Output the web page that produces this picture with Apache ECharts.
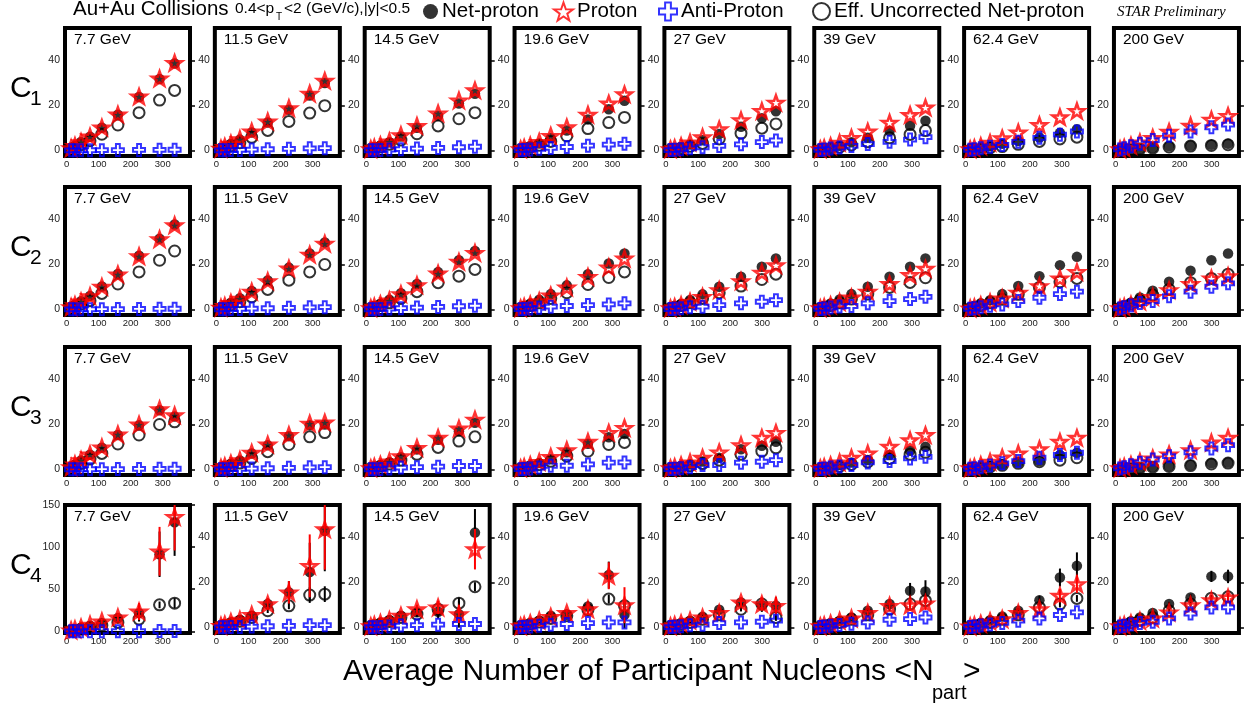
<!DOCTYPE html>
<html><head><meta charset="utf-8">
<script src="https://cdn.jsdelivr.net/npm/echarts@6/dist/echarts.min.js"></script>
<style>html,body{margin:0;padding:0;background:#fff}#c{width:1256px;height:704px}</style>
</head><body><div id="c"></div>
<script>
// ---------------- DATA ----------------
const energies = ['7.7 GeV','11.5 GeV','14.5 GeV','19.6 GeV','27 GeV','39 GeV','62.4 GeV','200 GeV'];
const npart = [
  [337,290,226,160,110,73,45,26,14],
  [338,291,226,160,110,73,45,26,14],
  [339,289,224,158,108,72,44,25,14],
  [338,289,224,158,108,72,44,25,14],
  [343,299,234,166,114,75,47,27,14],
  [342,294,230,162,111,74,46,26,14],
  [347,294,230,164,114,76,47,27,14],
  [351,299,234,167,116,76,48,27,14]
];
const xTicks = [0,100,200,300];
const yTicks = [0,20,40];
const yTicksC4Low = [0,50,100,150];
const rowLabels = ['1','2','3','4'];

// C1
const c1_proton = [
  [39.0,32.0,24.0,16.0,10.2,6.2,3.7,2.0,1.0],
  [31.0,25.3,18.8,12.9,8.4,5.0,3.0,1.6,0.8],
  [26.8,22.3,16.5,10.9,6.8,4.0,2.3,1.2,0.6],
  [25.0,20.9,15.9,10.3,6.5,3.8,2.1,1.1,0.5],
  [21.3,17.6,13.5,9.4,5.9,3.5,1.9,1.0,0.5],
  [19.1,15.8,12.4,8.4,5.6,3.4,1.9,1.0,0.5],
  [17.6,14.8,11.3,8.0,5.4,3.4,1.9,1.0,0.5],
  [15.4,13.7,11.0,8.3,5.6,3.6,2.1,1.1,0.5]
];
const c1_anti = [
  [0.3,0.25,0.2,0.15,0.1,0.07,0.04,0.02,0.01],
  [1.0,0.9,0.7,0.5,0.35,0.22,0.13,0.07,0.03],
  [1.6,1.4,1.1,0.8,0.55,0.35,0.2,0.1,0.05],
  [2.9,2.6,2.1,1.5,1.1,0.7,0.4,0.2,0.1],
  [4.4,3.7,2.7,2.0,1.4,0.9,0.5,0.3,0.15],
  [5.9,4.8,3.8,2.8,2.0,1.3,0.8,0.4,0.2],
  [8.4,7.0,5.6,3.8,2.4,1.6,0.9,0.5,0.25],
  [11.5,10.3,8.4,6.5,4.6,3.0,1.8,0.9,0.45]
];
const c1_net = [
  [38.7,31.8,23.8,15.9,10.1,6.1,3.7,2.0,1.0],
  [30.0,24.4,18.1,12.4,8.0,4.8,2.9,1.5,0.8],
  [25.2,20.9,15.4,10.1,6.2,3.6,2.1,1.1,0.55],
  [22.1,18.3,13.8,8.8,5.4,3.1,1.7,0.9,0.4],
  [17.4,14.3,10.5,7.3,4.5,2.6,1.4,0.7,0.35],
  [13.2,11.0,8.6,5.6,3.6,2.1,1.1,0.6,0.3],
  [9.4,7.8,5.7,4.2,3.0,1.8,1.0,0.5,0.25],
  [2.9,2.5,2.2,1.8,1.2,0.7,0.4,0.2,0.1]
];
const c1_eff = [
  [26.7,22.4,16.8,11.3,7.2,4.3,2.5,1.3,0.6],
  [19.9,16.6,12.9,8.9,5.8,3.4,2.0,1.0,0.5],
  [16.8,14.1,10.9,7.4,4.6,2.7,1.5,0.8,0.4],
  [14.7,12.4,9.7,6.4,4.0,2.3,1.3,0.7,0.3],
  [11.8,9.9,7.6,5.1,3.1,1.8,1.0,0.5,0.25],
  [8.8,7.1,5.6,3.8,2.4,1.4,0.8,0.4,0.2],
  [5.9,5.1,4.0,2.7,1.7,1.1,0.6,0.3,0.15],
  [2.5,2.2,1.9,1.5,1.0,0.6,0.3,0.15,0.08]
];
// C2
const c2_proton = [
  [37.5,31.3,23.7,15.6,10.1,5.9,3.5,1.9,1.0],
  [29.3,24.4,18.2,12.6,7.9,4.8,2.9,1.5,0.8],
  [25.2,21.2,16.0,10.8,6.8,4.0,2.3,1.2,0.6],
  [22.7,18.7,14.5,9.8,6.2,3.7,2.1,1.1,0.5],
  [19.7,16.4,12.6,8.6,5.6,3.4,1.9,1.0,0.5],
  [18.1,15.3,11.3,7.9,5.3,3.2,1.8,1.0,0.5],
  [16.7,13.8,10.4,7.4,4.9,3.1,1.8,0.9,0.45],
  [14.8,13.8,11.3,8.6,5.6,3.6,2.1,1.1,0.5]
];
const c2_anti = [
  [0.3,0.25,0.2,0.15,0.1,0.07,0.04,0.02,0.01],
  [1.0,0.9,0.7,0.5,0.35,0.22,0.13,0.07,0.03],
  [1.6,1.4,1.1,0.8,0.55,0.35,0.2,0.1,0.05],
  [2.7,2.2,1.9,1.5,1.2,0.7,0.4,0.2,0.1],
  [4.1,3.4,2.7,1.9,1.2,0.9,0.5,0.3,0.15],
  [5.6,4.6,3.7,2.7,1.5,1.3,0.8,0.4,0.2],
  [7.9,6.8,5.2,3.7,2.2,1.6,0.9,0.5,0.25],
  [11.6,10.1,7.9,5.9,3.7,2.8,1.7,0.9,0.45]
];
const c2_net = [
  [37.8,31.5,23.9,15.8,10.2,6.0,3.6,1.9,1.0],
  [29.8,24.9,18.6,12.9,8.2,5.0,3.0,1.6,0.8],
  [26.0,21.9,16.6,11.3,7.2,4.3,2.5,1.3,0.65],
  [24.9,20.4,15.7,10.7,6.8,4.3,2.5,1.3,0.6],
  [22.7,19.0,14.5,10.1,6.7,4.2,2.4,1.3,0.65],
  [22.7,19.0,14.5,10.1,6.8,4.4,2.6,1.4,0.7],
  [23.4,19.7,14.8,10.4,6.8,4.1,2.7,1.4,0.7],
  [24.9,21.9,17.2,12.3,8.3,5.3,3.0,1.6,0.8]
];
const c2_eff = [
  [26.0,21.9,16.7,11.3,7.1,3.9,2.4,1.3,0.6],
  [20.0,16.7,13.0,8.9,5.6,3.4,2.0,1.0,0.5],
  [17.8,14.8,11.9,7.9,4.9,2.9,1.7,0.9,0.45],
  [16.7,14.2,11.1,7.4,4.9,2.9,1.7,0.9,0.45],
  [15.7,13.3,10.4,7.4,4.9,3.0,1.7,0.9,0.45],
  [14.1,12.0,9.8,6.8,4.6,2.9,1.7,0.9,0.45],
  [13.8,12.3,9.8,6.7,4.5,2.9,1.7,0.9,0.45],
  [15.7,13.8,11.9,8.9,6.4,4.0,2.4,1.3,0.6]
];
// C3
const c3_proton = [
  [24.1,26.8,20.0,15.6,9.8,6.7,4.1,2.2,1.0],
  [20.9,20.4,15.3,11.1,7.4,4.1,2.6,1.4,0.7],
  [22.2,18.2,14.1,9.6,5.9,3.5,2.0,1.1,0.5],
  [18.5,16.3,12.3,8.6,5.6,3.3,1.9,1.0,0.5],
  [16.3,14.1,10.8,7.6,5.2,3.1,1.8,1.0,0.5],
  [15.3,13.0,10.1,7.1,5.2,3.1,1.8,1.0,0.5],
  [14.1,12.3,9.0,7.1,5.3,3.4,1.9,1.0,0.5],
  [14.1,12.0,8.6,6.7,4.9,3.4,2.0,1.1,0.5]
];
const c3_anti = [
  [0.3,0.25,0.2,0.15,0.1,0.07,0.04,0.02,0.01],
  [1.0,0.9,0.7,0.5,0.35,0.22,0.13,0.07,0.03],
  [1.5,1.5,1.2,1.0,0.8,0.4,0.2,0.1,0.05],
  [3.1,3.0,2.2,1.6,1.6,0.8,0.4,0.2,0.1],
  [4.1,3.4,3.0,1.9,1.9,1.0,0.5,0.3,0.15],
  [5.6,4.9,3.7,3.1,1.9,1.3,0.8,0.4,0.2],
  [7.4,6.4,5.2,3.7,2.7,1.7,1.0,0.5,0.25],
  [10.8,9.3,7.6,5.9,4.4,3.0,1.8,0.9,0.45]
];
const c3_net = [
  [23.5,26.3,19.6,15.3,9.6,6.5,4.0,2.1,1.0],
  [20.0,19.6,14.8,10.7,7.1,4.0,2.5,1.3,0.65],
  [20.8,17.0,13.2,8.9,5.4,3.2,1.8,1.0,0.45],
  [15.8,14.3,11.4,7.6,4.5,2.8,1.6,0.8,0.4],
  [12.3,10.5,9.0,5.2,3.5,2.2,1.3,0.7,0.35],
  [10.1,8.3,6.4,4.2,3.1,1.9,1.1,0.6,0.3],
  [7.4,6.4,3.7,3.1,2.2,1.6,0.9,0.5,0.25],
  [3.1,2.7,1.9,1.5,1.2,0.7,0.4,0.2,0.1]
];
const c3_eff = [
  [21.2,20.0,15.3,11.3,7.1,4.6,2.6,1.4,0.7],
  [16.4,14.5,11.1,7.9,4.9,2.8,1.7,0.9,0.45],
  [14.5,12.6,9.8,6.7,4.1,2.4,1.4,0.7,0.35],
  [12.0,11.1,8.1,5.9,3.6,2.1,1.2,0.6,0.3],
  [9.6,8.1,6.7,4.1,2.6,1.6,0.9,0.5,0.25],
  [7.6,6.7,4.9,3.3,2.2,1.3,0.8,0.4,0.2],
  [5.2,4.1,3.4,2.7,1.8,1.1,0.6,0.3,0.15],
  [2.8,2.4,1.7,1.3,1.0,0.6,0.3,0.15,0.08]
];
// C4
const c4_proton = [
  [136,95,23.5,16.5,11.8,7.9,4.5,2.5,1.2],
  [43.7,27.4,15.6,10.4,5.6,3.4,2.4,1.3,0.7],
  [34.8,5.9,8.9,8.1,5.2,3.2,1.9,1.0,0.5],
  [9.9,23.0,8.1,6.4,4.7,3.0,1.8,1.0,0.5],
  [9.6,10.4,11.1,6.4,4.4,3.0,1.8,1.0,0.5],
  [10.7,9.9,9.6,6.4,4.0,2.9,1.7,0.9,0.5],
  [19.3,14.1,8.1,6.4,3.7,2.7,1.6,0.9,0.45],
  [13.3,12.1,9.9,6.7,4.0,2.9,1.8,1.0,0.5]
];
const c4_anti = [
  [0.3,0.25,0.2,0.15,0.1,0.07,0.04,0.02,0.01],
  [1.0,1.0,0.7,0.5,0.35,0.22,0.13,0.07,0.03],
  [1.5,1.5,1.2,1.0,0.8,0.4,0.2,0.1,0.05],
  [2.2,2.2,1.9,1.5,1.2,0.7,0.4,0.2,0.1],
  [3.0,2.5,2.2,1.9,1.2,0.9,0.5,0.3,0.15],
  [4.4,3.7,3.4,2.2,1.6,1.1,0.7,0.4,0.2],
  [6.7,5.5,4.0,3.0,2.0,1.3,0.8,0.4,0.2],
  [8.9,8.9,6.2,4.0,2.5,2.0,1.3,0.7,0.35]
];
const c4_net = [
  [129.6,91.5,21.6,15.7,9.8,6.7,4.2,2.3,1.1],
  [43.0,24.7,15.6,10.4,5.2,3.3,2.2,1.2,0.6],
  [42.2,5.9,7.0,6.7,5.2,3.2,1.9,1.0,0.5],
  [5.6,23.3,9.3,5.6,5.2,3.0,1.8,1.0,0.5],
  [9.6,9.9,11.1,7.9,4.7,3.0,1.8,1.0,0.5],
  [16.0,16.3,10.4,7.4,4.4,2.9,1.7,0.9,0.5],
  [27.4,22.2,12.1,7.4,4.9,3.2,1.9,1.0,0.5],
  [22.7,22.7,13.3,10.4,6.4,4.4,2.7,1.4,0.7]
];
const c4_eff = [
  [33.4,31.4,14.5,10.6,7.1,4.5,2.6,1.4,0.7],
  [14.8,14.4,9.6,7.4,4.4,2.7,1.6,0.8,0.4],
  [18.1,10.8,8.1,5.9,4.4,2.6,1.5,0.8,0.4],
  [9.6,12.6,7.8,5.2,4.0,2.4,1.4,0.7,0.35],
  [4.4,10.4,8.1,5.6,3.6,2.2,1.3,0.7,0.35],
  [11.9,10.4,8.1,5.6,3.6,2.2,1.3,0.7,0.35],
  [12.9,10.4,8.9,5.6,3.6,2.2,1.3,0.7,0.35],
  [13.6,13.0,10.4,7.4,4.4,3.2,2.0,1.0,0.5]
];
const c4_net_err = [
  [40,27,10,5,3,1.5,0.8,0.4,0.2],
  [18,13,5,2.5,1.5,0.8,0.4,0.2,0.1],
  [10.5,6,3,2,1,0.6,0.3,0.2,0.1],
  [6,6,2.5,1.5,1,0.5,0.3,0.2,0.1],
  [4,3,2,1.2,0.8,0.5,0.3,0.2,0.1],
  [5,3.5,2,1.2,0.8,0.5,0.3,0.2,0.1],
  [6,4,2,1.2,0.8,0.5,0.3,0.2,0.1],
  [3,2.5,1.5,1,0.6,0.4,0.2,0.1,0.1]
];
const c4_proton_err = [
  [40,29,10,5,3,1.5,0.8,0.4,0.2],
  [18,14,5,2.5,1.5,0.8,0.4,0.2,0.1],
  [9,4,3,2,1,0.6,0.3,0.2,0.1],
  [8,6,2.5,1.5,1,0.5,0.3,0.2,0.1],
  [4,3,2,1.2,0.8,0.5,0.3,0.2,0.1],
  [3,2.5,1.5,1,0.6,0.4,0.2,0.1,0.1],
  [4,3,1.5,1,0.6,0.4,0.2,0.1,0.1],
  [2,1.5,1,0.8,0.5,0.3,0.2,0.1,0.1]
];
const c4_eff_err = [
  [6,4,2,1.5,1,0.6,0.3,0.2,0.1],
  [3.5,3.5,1.5,1,0.6,0.4,0.2,0.1,0.1],
  [2,2.5,1,0.8,0.5,0.3,0.2,0.1,0.1],
  [2,2,1,0.8,0.5,0.3,0.2,0.1,0.1],
  [1.5,1.5,1,0.8,0.5,0.3,0.2,0.1,0.1],
  [1.5,1.5,1,0.8,0.5,0.3,0.2,0.1,0.1],
  [1.5,1.5,1,0.8,0.5,0.3,0.2,0.1,0.1],
  [1.5,1.5,1,0.8,0.5,0.3,0.2,0.1,0.1]
];

// ---------------- LAYOUT / STYLE ----------------
const FONT = "'Liberation Sans', Arial, Helvetica, sans-serif";
const STAR = 'path://M50,0 L61.8,33.8 L97.55,34.55 L69,56.3 L79.39,90.45 L50,70 L20.61,90.45 L31,56.3 L2.45,34.55 L38.2,33.8 Z';
const CROSS = 'path://M34,0 H66 V34 H100 V66 H66 V100 H34 V66 H0 V34 H34 Z';
const gridLeft0 = 65, colStep = 149.85, gridW = 125, gridH = 128;
const gridTops = [28, 187, 347, 505];

const rows = [
  {net:c1_net, proton:c1_proton, anti:c1_anti, eff:c1_eff},
  {net:c2_net, proton:c2_proton, anti:c2_anti, eff:c2_eff},
  {net:c3_net, proton:c3_proton, anti:c3_anti, eff:c3_eff},
  {net:c4_net, proton:c4_proton, anti:c4_anti, eff:c4_eff,
   netErr:c4_net_err, protonErr:c4_proton_err, effErr:c4_eff_err}
];

const grids = [], xAxes = [], yAxes = [], series = [], graphics = [];

function errSeries(idx, c, vals, errs, color, z) {
  return {
    type:'custom', xAxisIndex: idx, yAxisIndex: 2*idx, clip: true, silent: true, z: z,
    data: npart[c].map((x,i)=>[x, vals[c][i], errs[c][i]]),
    encode: {x:0, y:1},
    renderItem: function(params, api) {
      const x = api.value(0), y = api.value(1), e = api.value(2);
      const p1 = api.coord([x, y - e]), p2 = api.coord([x, y + e]);
      return {type:'line', shape:{x1:p1[0], y1:p1[1], x2:p2[0], y2:p2[1]},
              style:{stroke: color, lineWidth: 2}};
    }
  };
}

rows.forEach((row, r) => {
  energies.forEach((en, c) => {
    const idx = r*8 + c;
    const left = gridLeft0 + colStep*c, top = gridTops[r];
    const lowRange = (r === 3 && c === 0);
    const yMin = lowRange ? -2 : -2.5, yMax = lowRange ? 150 : 54.5;
    const ticks = lowRange ? yTicksC4Low : yTicks;
    grids.push({left:left, top:top, width:gridW, height:gridH, show:true,
      borderColor:'#000', borderWidth:4, backgroundColor:'rgba(0,0,0,0)'});
    xAxes.push({gridIndex:idx, type:'value', min:-5, max:385,
      axisLine:{show:false}, splitLine:{show:false}, axisTick:{show:false},
      axisLabel:{customValues:xTicks, fontSize:9.5, color:'#222', margin:3, fontFamily:FONT}});
    yAxes.push({gridIndex:idx, type:'value', min:yMin, max:yMax, position:'left',
      axisLine:{show:false}, splitLine:{show:false}, axisTick:{show:false},
      axisLabel:{customValues:ticks, fontSize:10.5, color:'#222', margin:5, fontFamily:FONT}});
    yAxes.push({gridIndex:idx, type:'value', min:yMin, max:yMax, position:'right',
      axisLine:{show:false}, splitLine:{show:false}, axisLabel:{show:false},
      axisTick:{show:true, customValues:ticks, length:5, inside:false, lineStyle:{color:'#000', width:1.5}}});

    const pts = arr => npart[c].map((x,i)=>[x, arr[c][i]]);
    if (row.effErr) series.push(errSeries(idx, c, row.eff, row.effErr, '#000', 2));
    series.push({type:'scatter', name:'Eff. Uncorrected Net-proton', xAxisIndex:idx, yAxisIndex:2*idx,
      data:pts(row.eff), symbol:'circle', symbolSize:11, z:3, silent:true,
      itemStyle:{color:'rgba(0,0,0,0)', borderColor:'#000', borderWidth:2}});
    if (row.netErr) series.push(errSeries(idx, c, row.net, row.netErr, '#000', 4));
    series.push({type:'scatter', name:'Net-proton', xAxisIndex:idx, yAxisIndex:2*idx,
      data:pts(row.net), symbol:'circle', symbolSize:10.5, z:5, silent:true,
      itemStyle:{color:'#000'}});
    if (row.protonErr) series.push(errSeries(idx, c, row.proton, row.protonErr, '#f00', 6));
    series.push({type:'scatter', name:'Proton', xAxisIndex:idx, yAxisIndex:2*idx,
      data:pts(row.proton), symbol:STAR, symbolKeepAspect:true, symbolSize:15, z:7, silent:true,
      itemStyle:{color:'rgba(0,0,0,0)', borderColor:'#f00', borderWidth:2.6}});
    series.push({type:'scatter', name:'Anti-Proton', xAxisIndex:idx, yAxisIndex:2*idx,
      data:pts(row.anti), symbol:CROSS, symbolSize:12, z:8, silent:true,
      itemStyle:{color:'rgba(0,0,0,0)', borderColor:'#00f', borderWidth:2}});

    graphics.push({type:'text', x:left + 9, y:top + 12, silent:true, z:20,
      style:{text:en, font:'15.5px ' + FONT, fill:'#000', textAlign:'left', textVerticalAlign:'middle',
             align:'left', verticalAlign:'middle'}});
  });
  // row label C_n
  const cy = gridTops[r] + gridH/2 - 3;
  graphics.push({type:'text', x:10, y:cy, silent:true,
    style:{text:'C', font:'30px ' + FONT, fill:'#000', textAlign:'left', textVerticalAlign:'middle', align:'left', verticalAlign:'middle'}});
  graphics.push({type:'text', x:30, y:cy + 10, silent:true,
    style:{text:rowLabels[r], font:'21px ' + FONT, fill:'#000', textAlign:'left', textVerticalAlign:'middle', align:'left', verticalAlign:'middle'}});
});

function txt(text, x, y, size, extra) {
  return Object.assign({type:'text', x:x, y:y, silent:true,
    style:{text:text, font:size + 'px ' + FONT, fill:'#000', textAlign:'left', textVerticalAlign:'middle', align:'left', verticalAlign:'middle'}}, extra || {});
}
graphics.push(txt('Au+Au Collisions', 73, 9, 20.5));
graphics.push(txt('0.4<p', 235, 9, 15.5));
graphics.push(txt('T', 276, 17, 10));
graphics.push(txt('<2 (GeV/c),|y|<0.5', 284, 9, 15.5));
graphics.push({type:'text', x:1117, y:12, silent:true,
  style:{text:'STAR Preliminary', font:'italic 15px "Liberation Serif", "DejaVu Serif", serif', fill:'#000',
         textAlign:'left', textVerticalAlign:'middle', align:'left', verticalAlign:'middle'}});
graphics.push(txt('Average Number of Participant Nucleons <N', 343, 672, 30));
graphics.push(txt('part', 932, 693, 20));
graphics.push(txt('>', 963, 672, 30));

function leg(name, left, size, itemStyle) {
  return {data:[name], left:left, top:1, orient:'horizontal', padding:0, itemGap:0,
    itemWidth:size, itemHeight:size, selectedMode:false,
    itemStyle:itemStyle,
    textStyle:{fontSize:20.5, color:'#000', fontFamily:FONT, padding:[0,0,0,-1]}};
}

const option = {
  animation:false,
  backgroundColor:'#fff',
  grid:grids, xAxis:xAxes, yAxis:yAxes, series:series, graphic:graphics,
  legend:[
    leg('Net-proton', 423, 15, {color:'#000'}),
    leg('Proton', 553, 19, {color:'rgba(0,0,0,0)', borderColor:'#f00', borderWidth:2}),
    leg('Anti-Proton', 658, 18, {color:'rgba(0,0,0,0)', borderColor:'#00f', borderWidth:2}),
    leg('Eff. Uncorrected Net-proton', 812, 17, {color:'rgba(0,0,0,0)', borderColor:'#000', borderWidth:2})
  ]
};
const chart = echarts.init(document.getElementById('c'), null, {renderer:'canvas'});
chart.setOption(option);
</script></body></html>
